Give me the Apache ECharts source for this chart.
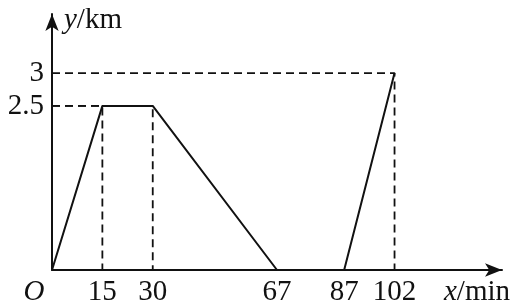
<!DOCTYPE html>
<html><head><meta charset="utf-8">
<script src="https://cdn.jsdelivr.net/npm/echarts@6/dist/echarts.min.js"></script>
<style>html,body{margin:0;padding:0;background:#fff}#c{width:513px;height:307px}</style>
</head><body><div id="c"></div>
<script>
const times = [0, 15, 30, 67, 87, 102];
const distances = [0, 2.5, 2.5, 0, 0, 3];
const xTicks = [15, 30, 67, 87, 102];
const yTicks = [2.5, 3];
const guideIdx = [1, 2, 5];

const FONT = "'Liberation Serif','DejaVu Serif',serif";
const INK = '#111';
const FS = 29;

const solid = times.map((t, i) => [t, distances[i]]);
const guides = guideIdx.map(i => ({
  type: 'line', silent: true, symbol: 'none', animation: false,
  lineStyle: { color: INK, width: 1.8, type: [8, 5] },
  data: [[0, distances[i]], [times[i], distances[i]], [times[i], 0]]
}));

const chart = echarts.init(document.getElementById('c'));
chart.setOption({
  animation: false,
  grid: { left: 52, right: 8, top: 14, bottom: 36 },
  xAxis: {
    type: 'value', min: 0, max: 134,
    axisLine: { lineStyle: { color: INK, width: 2 }, symbol: ['none', 'arrow'], symbolSize: [10, 17], symbolOffset: [0, 0] },
    axisTick: { show: false }, splitLine: { show: false },
    axisLabel: {
      customValues: [0].concat(xTicks), margin: 8,
      color: INK, fontFamily: FONT, fontSize: FS,
      formatter: v => v === 0 ? '{o|O}' : String(v),
      rich: { o: { fontStyle: 'italic', fontFamily: FONT, fontSize: FS, color: INK, padding: [0, 36, 12, 0] } }
    },
    name: '{i|x}/min', nameLocation: 'end', nameGap: 8,
    nameTextStyle: {
      color: INK, fontFamily: FONT, fontSize: FS, align: 'right', verticalAlign: 'top', padding: [8, 0, 0, 0],
      rich: { i: { fontStyle: 'italic', fontFamily: FONT, fontSize: FS, color: INK } }
    }
  },
  yAxis: {
    type: 'value', min: 0, max: 3.9,
    axisLine: { lineStyle: { color: INK, width: 2 }, symbol: ['none', 'arrow'], symbolSize: [10, 17], symbolOffset: [0, 0] },
    axisTick: { show: false }, splitLine: { show: false },
    axisLabel: { customValues: yTicks, margin: 8, color: INK, fontFamily: FONT, fontSize: FS },
    name: '{i|y}/km', nameLocation: 'end', nameGap: -6,
    nameTextStyle: {
      color: INK, fontFamily: FONT, fontSize: FS, align: 'left', verticalAlign: 'middle', padding: [0, 0, 0, 12],
      rich: { i: { fontStyle: 'italic', fontFamily: FONT, fontSize: FS, color: INK } }
    }
  },
  series: guides.concat([{
    type: 'line', symbol: 'none', silent: true, animation: false,
    lineStyle: { color: INK, width: 2 },
    data: solid
  }])
});
</script></body></html>
